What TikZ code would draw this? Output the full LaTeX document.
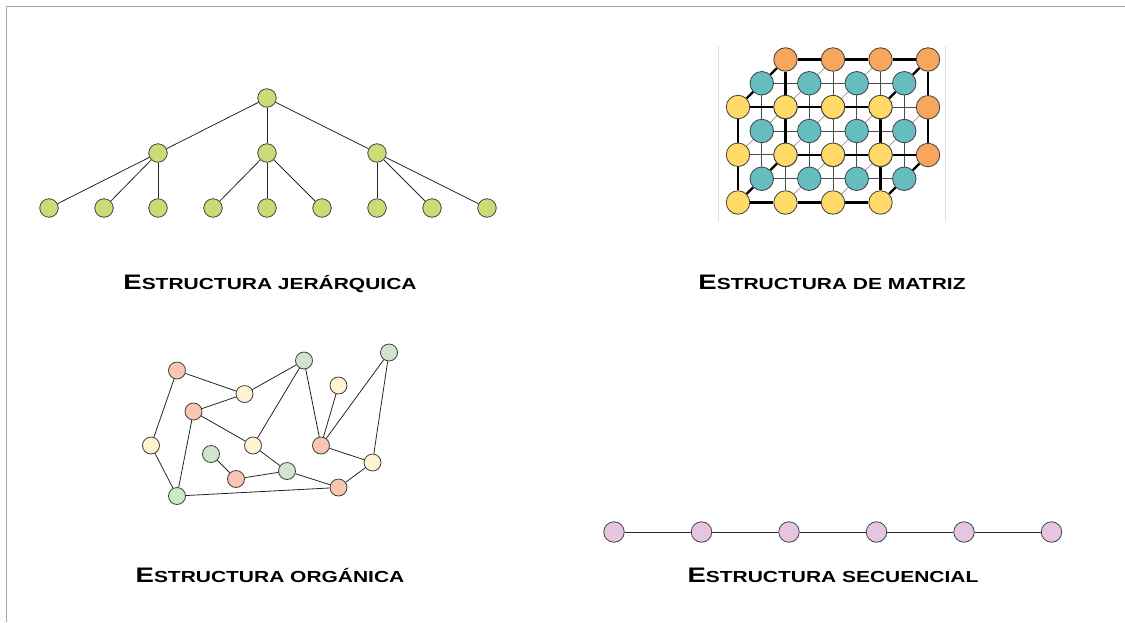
\documentclass[tikz,border=0pt]{standalone}
\usepackage{fontspec}
\newfontfamily\capsfont{Liberation Sans}[FakeStretch=1.31]
\usetikzlibrary{positioning,backgrounds}
\definecolor{treegreen}{HTML}{C9DC76}
\definecolor{mxyellow}{HTML}{FFDA66}
\definecolor{mxteal}{HTML}{66BDBF}
\definecolor{mxorange}{HTML}{F8A65B}
\definecolor{orgred}{HTML}{F8C6B2}
\definecolor{orgcream}{HTML}{FFF3D2}
\definecolor{orggreen}{HTML}{CFE6CD}
\definecolor{seqpink}{HTML}{E6C5E0}
\definecolor{framegray}{HTML}{A6A6A6}
\newcommand{\capstitle}[2]{{\capsfont\bfseries\fontsize{21}{21}\selectfont #1\fontsize{16}{16}\selectfont #2}}

\begin{document}
\begin{tikzpicture}[x=1pt,y=-1pt, dot/.style={circle,draw=black!75,line width=0.8pt,inner sep=0pt},
  tdot/.style={dot,fill=treegreen,minimum size=18.5pt}, mdot/.style={dot,minimum size=23.5pt},
  odot/.style={dot,minimum size=17pt}, sdot/.style={dot,fill=seqpink,minimum size=20.5pt},
  edge/.style={black!85,line width=0.8pt}, title/.style={anchor=base,inner sep=0pt}]
\useasboundingbox (0,0) rectangle (1125,622);
\draw[framegray,line width=1.5pt] (6.7,622) -- (6.7,6.7) -- (1125,6.7);

% jerarquica
\node[tdot] (root) at (267,98) {};
\foreach \n/\x in {a/158,b/267,c/377} {
  \node[tdot] (\n) at (\x,153) {};
  \draw[edge] (root) -- (\n);
}
\foreach \i/\x/\p in {1/49/a,2/104/a,3/158/a,4/213/b,5/267/b,6/322/b,7/377/c,8/432/c,9/487/c} {
  \node[tdot] (l\i) at (\x,208) {};
  \draw[edge] (\p) -- (l\i);
}
\node[title] (tj) at (270,289) {\capstitle{E}{STRUCTURA JERÁRQUICA}};

% matriz
\draw[black!12,line width=0.8pt] (718,46) -- (718,222) (945.5,46) -- (945.5,221);
\foreach \k/\col in {2/mxorange,1/mxteal,0/mxyellow}
  \foreach \i in {0,...,3}
    \foreach \j in {0,...,2}
      \node[mdot,fill=\col] (m\k\i\j) at ({738+47.5*\i+23.75*\k},{107+47.75*\j-23.75*\k}) {};
\begin{scope}[on background layer]
\foreach \k in {0,1,2} {
  \foreach \i/\ii in {0/1,1/2,2/3} \foreach \j in {0,1,2}
    \draw[black!70,line width=0.8pt] (m\k\i\j) -- (m\k\ii\j);
  \foreach \i in {0,...,3} \foreach \j/\jj in {0/1,1/2}
    \draw[black!70,line width=0.8pt] (m\k\i\j) -- (m\k\i\jj);
}
\foreach \i in {0,...,3} \foreach \j in {0,1,2}
  \draw[black!35,line width=0.8pt] (m0\i\j) -- (m1\i\j) -- (m2\i\j);
\foreach \k in {0,2} {
  \draw[line width=2.2pt] (m\k00) -- (m\k10) -- (m\k20) -- (m\k30) -- (m\k31) -- (m\k32)
    -- (m\k22) -- (m\k12) -- (m\k02) -- (m\k01) -- (m\k00);
}
\foreach \i/\j in {0/0,3/0,3/2,0/2}
  \draw[line width=2.2pt] (m0\i\j) -- (m1\i\j) -- (m2\i\j);
\end{scope}
\node[title] (tm) at (832,289) {\capstitle{E}{STRUCTURA DE MATRIZ}};

% organica
\foreach \n/\x/\y/\col in {A/177/370.5/orgred,B/244.5/394/orgcream,C/304/360.5/orggreen,
  D/193.5/411.5/orgred,E/389/352.5/orggreen,F/338.5/385.5/orgcream,G/151/445.5/orgcream,
  H/253/445.5/orgcream,I/321/445.5/orgred,J/211/454/orggreen,K/287/471/orggreen,
  L/236/479/orgred,M/372.5/462.5/orgcream,N/338.5/487.5/orgred,O/177/496/orggreen}
  \node[odot,fill=\col] (\n) at (\x,\y) {};
\foreach \u/\v in {A/B,B/C,B/D,A/G,G/O,D/O,D/H,H/C,H/K,C/I,F/I,E/I,E/M,I/M,J/L,L/K,K/N,M/N,O/N}
  \draw[edge] (\u) -- (\v);
\node[title] (to) at (270,582.5) {\capstitle{E}{STRUCTURA ORGÁNICA}};

% secuencial
\foreach \i in {1,...,6}
  \node[sdot] (s\i) at ({614+87.5*(\i-1)},532) {};
\foreach \i/\ii in {1/2,2/3,3/4,4/5,5/6}
  \draw[edge] (s\i) -- (s\ii);
\node[title] (ts) at (833,582.5) {\capstitle{E}{STRUCTURA SECUENCIAL}};
\end{tikzpicture}
\end{document}
